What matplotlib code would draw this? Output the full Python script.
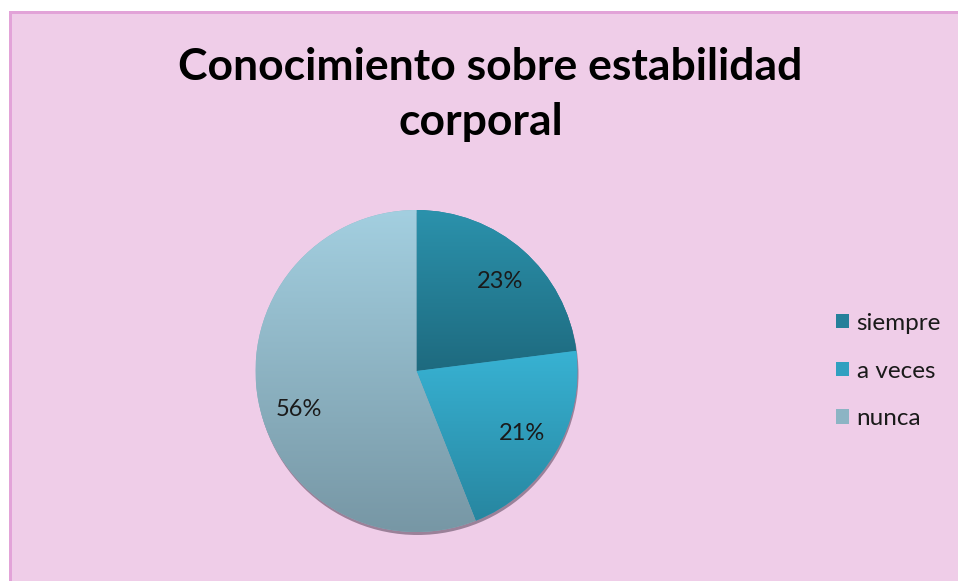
import matplotlib.pyplot as plt
import numpy as np
from matplotlib.patches import Circle, Rectangle
from matplotlib.colors import LinearSegmentedColormap

# data
categories = ['siempre', 'a veces', 'nunca']
values = [23, 21, 56]
top_colors = ['#2B92AC', '#38B2D3', '#A3CFE0']
bottom_colors = ['#1E6A7F', '#2786A0', '#7797A5']
mid_colors = ['#25809A', '#30A0C0', '#8CB4C4']
label_angles = [47.0, -30.6, -162.0]
label_dist = [0.76, 0.76, 0.77]

W, H = 958, 581
fig = plt.figure(figsize=(W / 100, H / 100), dpi=100)
fig.patch.set_facecolor('white')
ax = fig.add_axes([0, 0, 1, 1])
ax.set_xlim(0, W)
ax.set_ylim(0, H)
ax.set_aspect('equal')
ax.axis('off')

# chart area with pink border on top and left
ax.add_patch(Rectangle((9, -5), W, H - 9, facecolor='#EFCDE8', edgecolor='none', zorder=0))
ax.add_patch(Rectangle((9, H - 14), W, 3, facecolor='#E2A3D8', edgecolor='none', zorder=1))
ax.add_patch(Rectangle((9, -5), 3, H - 6, facecolor='#E2A3D8', edgecolor='none', zorder=1))

cx, cy, r = 416.5, 210.0, 161.0

# shadow
ax.add_patch(Circle((cx + 1, cy - 3), r, facecolor='#9B8199', edgecolor='none', zorder=2))

wedges, _ = ax.pie(values, colors=mid_colors, startangle=90, counterclock=False,
                   center=(cx, cy), radius=r, frame=True,
                   wedgeprops=dict(linewidth=0, edgecolor='none'))
ax.set_xlim(0, W)
ax.set_ylim(0, H)
ax.axis('off')

for w, c0, c1 in zip(wedges, top_colors, bottom_colors):
    w.set_zorder(3)
    bb = w.get_path().get_extents(w.get_patch_transform())
    cmap = LinearSegmentedColormap.from_list('g', [c1, c0])
    grad = np.linspace(0, 1, 256).reshape(-1, 1)
    im = ax.imshow(grad, cmap=cmap, origin='lower', aspect='auto',
                   extent=[bb.x0, bb.x1, bb.y0, bb.y1], zorder=4)
    im.set_clip_path(w)

ax.set_xlim(0, W)
ax.set_ylim(0, H)

for v, a, d in zip(values, label_angles, label_dist):
    t = np.deg2rad(a)
    ax.text(cx + d * r * np.cos(t), cy + d * r * np.sin(t), '{}%'.format(v),
            ha='center', va='center', fontsize=17, family='Lato', color='#1A1A1A', zorder=5)

fig.text(490 / W, 1 - 67 / H, 'Conocimiento sobre estabilidad', ha='center', va='center',
         fontsize=32, fontweight='bold', family='Lato', color='black')
fig.text(481 / W, 1 - 122 / H, 'corporal', ha='center', va='center',
         fontsize=32, fontweight='bold', family='Lato', color='black')

leg = ax.legend(wedges, categories, loc='center left', bbox_to_anchor=(814 / W, 1 - 371 / H),
                frameon=False, prop={'family': 'Lato', 'size': 17.5},
                handlelength=0.55, handleheight=0.55, handletextpad=0.3, labelspacing=1.1)
for t in leg.get_texts():
    t.set_color('#1A1A1A')

fig.savefig('out.png', dpi=100, facecolor=fig.get_facecolor())
